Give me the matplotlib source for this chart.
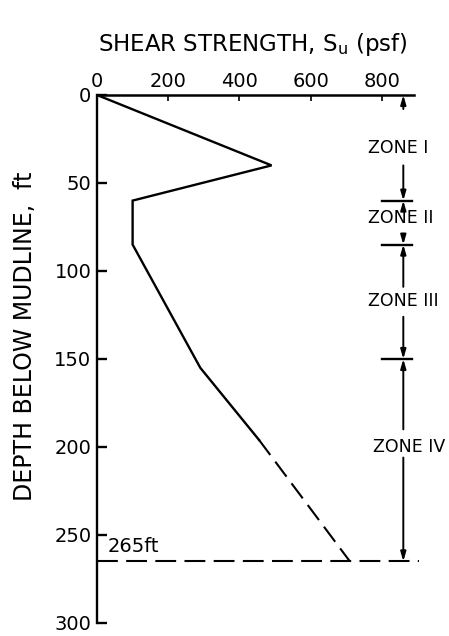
import matplotlib
matplotlib.use("Agg")
import matplotlib.pyplot as plt

# ---- data ----
depth_solid = [0, 40, 60, 85, 155, 196]
su_solid = [0, 490, 100, 100, 290, 455]
depth_dash = [196, 265]
su_dash = [455, 710]
x_ticks = [0, 200, 400, 600, 800]
y_ticks = [0, 50, 100, 150, 200, 250, 300]
zone_bounds = [0, 60, 85, 150, 265]
zone_names = ["ZONE I", "ZONE II", "ZONE III", "ZONE IV"]
zone_label_depth = [30, 70, 117, 200]
zone_stem_top_end = [8, 64, 109, 190]
zone_stem_bot_start = [40, 81, 126, 206]
mudline_depth = 265

FONT = "DejaVu Sans"
fs = 14

fig = plt.figure(figsize=(4.49, 6.36), dpi=100)
ax = fig.add_axes([97/449, 1-623/636, (414-97)/449, (623-95)/636])
ax.set_xlim(0, 890)
ax.set_ylim(300, 0)

ax.plot(su_solid, depth_solid, color="black", lw=1.7, solid_joinstyle="miter")
ax.plot(su_dash, depth_dash, color="black", lw=1.5, dashes=(9, 4))
ax.plot([0, 905], [mudline_depth, mudline_depth], color="black", lw=1.5,
        dashes=(10, 4), clip_on=False)

# spines
for s in ["right", "bottom"]:
    ax.spines[s].set_visible(False)
ax.spines["top"].set_linewidth(1.8)
ax.spines["left"].set_linewidth(1.7)

ax.xaxis.tick_top()
ax.set_xticks(x_ticks)
ax.set_xticklabels([str(v) for v in x_ticks], fontsize=fs, family=FONT)
ax.set_yticks(y_ticks)
ax.set_yticklabels([str(v) for v in y_ticks], fontsize=fs, family=FONT)
ax.tick_params(axis="x", direction="in", length=4, width=1.2, pad=3)
ax.tick_params(axis="y", direction="in", length=7, width=1.7, pad=4)

# zone annotations
xa = 860
for b in zone_bounds[1:4]:
    ax.plot([800, 885], [b, b], color="black", lw=1.7, clip_on=False)
label_x = [760, 760, 760, 775]
ap = dict(arrowstyle="-|>,head_length=0.55,head_width=0.16", color="black",
          lw=1.4, shrinkA=0, shrinkB=0)
for i, name in enumerate(zone_names):
    top, bot = zone_bounds[i], zone_bounds[i+1]
    ax.text(label_x[i], zone_label_depth[i], name, fontsize=12.5, family=FONT,
            ha="left", va="center")
    ax.annotate("", xy=(xa, top), xytext=(xa, zone_stem_top_end[i]),
                arrowprops=ap, annotation_clip=False)
    ax.annotate("", xy=(xa, bot), xytext=(xa, zone_stem_bot_start[i]),
                arrowprops=ap, annotation_clip=False)

ax.text(30, 262, "265ft", fontsize=fs, family=FONT, ha="left", va="bottom")

fig.text(0.563, 1-45/636, "SHEAR STRENGTH, S$_{\\mathregular{u}}$ (psf)", fontsize=16.5,
         family=FONT, ha="center", va="center")
fig.text(25/449, 1-336/636, "DEPTH BELOW MUDLINE,  ft", fontsize=17, family=FONT,
         rotation=90, ha="center", va="center")

fig.savefig("out.png", dpi=100)
